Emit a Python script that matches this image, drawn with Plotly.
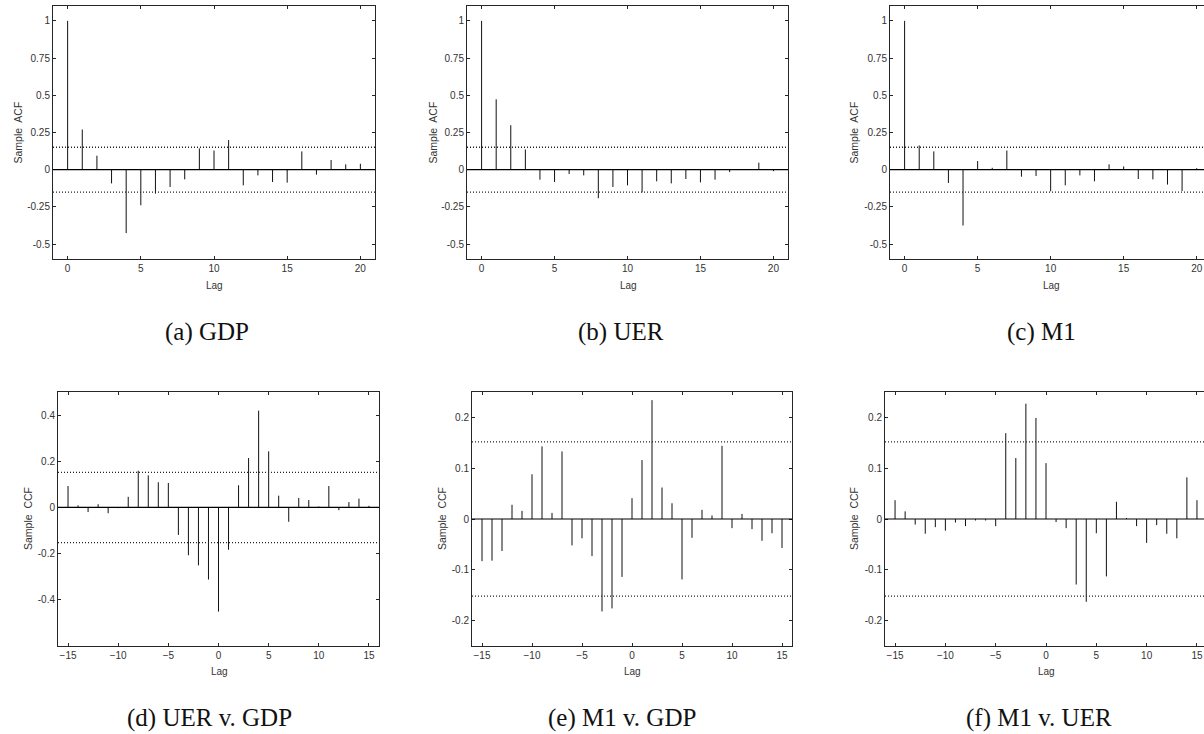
import plotly.graph_objects as go

# ---------------- data ----------------
acf_lags = list(range(0, 21))
ccf_lags = list(range(-15, 16))

acf_gdp = [1.0, 0.27, 0.094, -0.092, -0.426, -0.239, -0.161, -0.116, -0.065, 0.143,
           0.129, 0.199, -0.105, -0.038, -0.083, -0.087, 0.123, -0.033, 0.065, 0.036, 0.04]
acf_uer = [1.0, 0.473, 0.299, 0.136, -0.067, -0.083, -0.029, -0.038, -0.192, -0.116,
           -0.105, -0.152, -0.078, -0.092, -0.0625, -0.085, -0.067, -0.016, 0.002, 0.047, -0.01]
acf_m1 = [1.0, 0.163, 0.123, -0.089, -0.375, 0.058, 0.013, 0.129, -0.047, -0.042,
          -0.145, -0.105, -0.038, -0.078, 0.036, 0.022, -0.0625, -0.065, -0.1, -0.143, 0.01]

ccf_uer_gdp = [0.093, 0.009, -0.02, 0.014, -0.025, -0.003, 0.046, 0.159, 0.139, 0.109, 0.106,
               -0.119, -0.207, -0.251, -0.312, -0.451, -0.183, 0.096, 0.214, 0.419, 0.243,
               0.051, -0.062, 0.041, 0.032, 0.004, 0.093, -0.012, 0.023, 0.038, 0.007]
ccf_m1_gdp = [-0.083, -0.082, -0.063, 0.028, 0.016, 0.088, 0.143, 0.012, 0.133, -0.052, -0.038,
              -0.073, -0.182, -0.176, -0.114, 0.041, 0.116, 0.234, 0.062, 0.031, -0.119,
              -0.037, 0.018, 0.007, 0.144, -0.018, 0.01, -0.02, -0.043, -0.028, -0.057]
ccf_m1_uer = [0.037, 0.015, -0.011, -0.029, -0.016, -0.023, -0.007, -0.014, -0.003, -0.003, -0.014,
              0.169, 0.12, 0.227, 0.199, 0.11, -0.006, -0.018, -0.129, -0.163, -0.028,
              -0.113, 0.034, 0.002, -0.014, -0.047, -0.012, -0.029, -0.038, 0.082, 0.037]

acf_bound = 0.151
ccf_bound = 0.152

captions = ["(a) GDP", "(b) UER", "(c) M1", "(d) UER v. GDP", "(e) M1 v. GDP", "(f) M1 v. UER"]
ylabels = ["Sample  ACF"] * 3 + ["Sample  CCF"] * 3

acf_ticks = [-0.5, -0.25, 0, 0.25, 0.5, 0.75, 1]
acf_ticktext = ["-0.5", "-0.25", "0", "0.25", "0.5", "0.75", "1"]
ccf_ticks_d = [-0.4, -0.2, 0, 0.2, 0.4]
ccf_ticktext_d = ["-0.4", "-0.2", "0", "0.2", "0.4"]
ccf_ticks_ef = [-0.2, -0.1, 0, 0.1, 0.2]
ccf_ticktext_ef = ["-0.2", "-0.1", "0", "0.1", "0.2"]

# ---------------- layout constants (pixels) ----------------
W, H = 1204, 734
panels = [
    dict(lags=acf_lags, vals=acf_gdp, bound=acf_bound, xpx=(53, 375), ypx=(6, 259),
         xr=[-1, 21], yr=[-0.6, 1.1], yt=acf_ticks, ytt=acf_ticktext, xt=[0, 5, 10, 15, 20],
         ylx=17, capx=207, lagx=214, mirror_y=True),
    dict(lags=acf_lags, vals=acf_uer, bound=acf_bound, xpx=(467, 788), ypx=(6, 259),
         xr=[-1, 21], yr=[-0.6, 1.1], yt=acf_ticks, ytt=acf_ticktext, xt=[0, 5, 10, 15, 20],
         ylx=432, capx=621, lagx=628, mirror_y=True),
    dict(lags=acf_lags, vals=acf_m1, bound=acf_bound, xpx=(890, 1204), ypx=(6, 259),
         xr=[-1, 20.5], yr=[-0.6, 1.1], yt=acf_ticks, ytt=acf_ticktext, xt=[0, 5, 10, 15, 20],
         ylx=853, capx=1041, lagx=1051, mirror_y=False),
    dict(lags=ccf_lags, vals=ccf_uer_gdp, bound=ccf_bound, xpx=(58, 379), ypx=(392, 646),
         xr=[-16, 16], yr=[-0.6, 0.5], yt=ccf_ticks_d, ytt=ccf_ticktext_d,
         xt=[-15, -10, -5, 0, 5, 10, 15], ylx=28, capx=209, lagx=219, mirror_y=True),
    dict(lags=ccf_lags, vals=ccf_m1_gdp, bound=ccf_bound, xpx=(472, 792), ypx=(392, 646),
         xr=[-16, 16], yr=[-0.25, 0.25], yt=ccf_ticks_ef, ytt=ccf_ticktext_ef,
         xt=[-15, -10, -5, 0, 5, 10, 15], ylx=442, capx=622, lagx=632, mirror_y=True),
    dict(lags=ccf_lags, vals=ccf_m1_uer, bound=ccf_bound, xpx=(885, 1204), ypx=(392, 646),
         xr=[-16, 15.7], yr=[-0.25, 0.25], yt=ccf_ticks_ef, ytt=ccf_ticktext_ef,
         xt=[-15, -10, -5, 0, 5, 10, 15], ylx=854, capx=1039, lagx=1046, mirror_y=False),
]

AX = "#262626"
TICKFONT = dict(family="Liberation Sans, Arial, sans-serif", size=10, color="#333333")
CAPFONT = dict(family="Liberation Serif, Times New Roman, serif", size=25, color="#111111")

fig = go.Figure()
annotations = []
shapes = []

for i, p in enumerate(panels):
    n = i + 1
    xa = "x" if n == 1 else f"x{n}"
    ya = "y" if n == 1 else f"y{n}"
    # stems
    sx, sy = [], []
    for lag, v in zip(p["lags"], p["vals"]):
        sx += [lag, lag, None]
        sy += [0, v, None]
    fig.add_trace(go.Scatter(x=sx, y=sy, mode="lines", xaxis=xa, yaxis=ya,
                             line=dict(color="#111111", width=1), showlegend=False,
                             hoverinfo="skip"))
    # zero line and confidence bounds
    shapes.append(dict(type="line", xref=f"{xa} domain", yref=ya, x0=0, x1=1, y0=0, y1=0,
                       line=dict(color="#000000", width=1.2), layer="above"))
    for bv in (p["bound"], -p["bound"]):
        shapes.append(dict(type="line", xref=f"{xa} domain", yref=ya, x0=0, x1=1, y0=bv, y1=bv,
                           line=dict(color="#222222", width=1.3, dash="1px,2px"), layer="above"))

    l, r = p["xpx"]
    t, b = p["ypx"]
    xdom = [l / W, min(r / W, 1.0)]
    ydom = [(H - b) / H, (H - t) / H]
    xkey = "xaxis" if n == 1 else f"xaxis{n}"
    ykey = "yaxis" if n == 1 else f"yaxis{n}"
    fig.layout[xkey] = dict(domain=xdom, range=p["xr"], anchor=ya, tickvals=p["xt"],
                            ticks="inside", ticklen=3, tickcolor=AX, tickwidth=1,
                            showline=True, linecolor=AX, linewidth=1, mirror="allticks",
                            showgrid=False, zeroline=False, tickfont=TICKFONT)
    fig.layout[ykey] = dict(domain=ydom, range=p["yr"], anchor=xa, tickvals=p["yt"],
                            ticktext=p["ytt"], ticks="inside", ticklen=3, tickcolor=AX,
                            tickwidth=1, showline=True, linecolor=AX, linewidth=1,
                            mirror="allticks" if p["mirror_y"] else False,
                            showgrid=False, zeroline=False, tickfont=TICKFONT)
    # y label
    annotations.append(dict(x=p["ylx"] / W, y=(H - (t + b) / 2) / H, xref="paper", yref="paper",
                            text=ylabels[i], textangle=-90, showarrow=False,
                            font=dict(family=TICKFONT["family"], size=10.5, color="#333333"),
                            xanchor="center", yanchor="middle"))
    # x label
    lag_y = 285 if b < 300 else 671.5
    annotations.append(dict(x=p["lagx"] / W, y=(H - lag_y) / H, xref="paper", yref="paper",
                            text="Lag", showarrow=False,
                            font=dict(family=TICKFONT["family"], size=10, color="#333333"),
                            xanchor="center", yanchor="middle"))
    # caption
    cap_y = 332 if b < 300 else 718
    annotations.append(dict(x=p["capx"] / W, y=(H - cap_y) / H, xref="paper", yref="paper",
                            text=captions[i], showarrow=False, font=CAPFONT,
                            xanchor="center", yanchor="middle"))

fig.update_layout(width=W, height=H, margin=dict(l=0, r=0, t=0, b=0),
                  paper_bgcolor="white", plot_bgcolor="white",
                  annotations=annotations, shapes=shapes, showlegend=False)

fig.write_html("out.html", config={"displayModeBar": False, "staticPlot": True},
               post_script="document.body.style.margin='0';document.body.style.padding='0';")
